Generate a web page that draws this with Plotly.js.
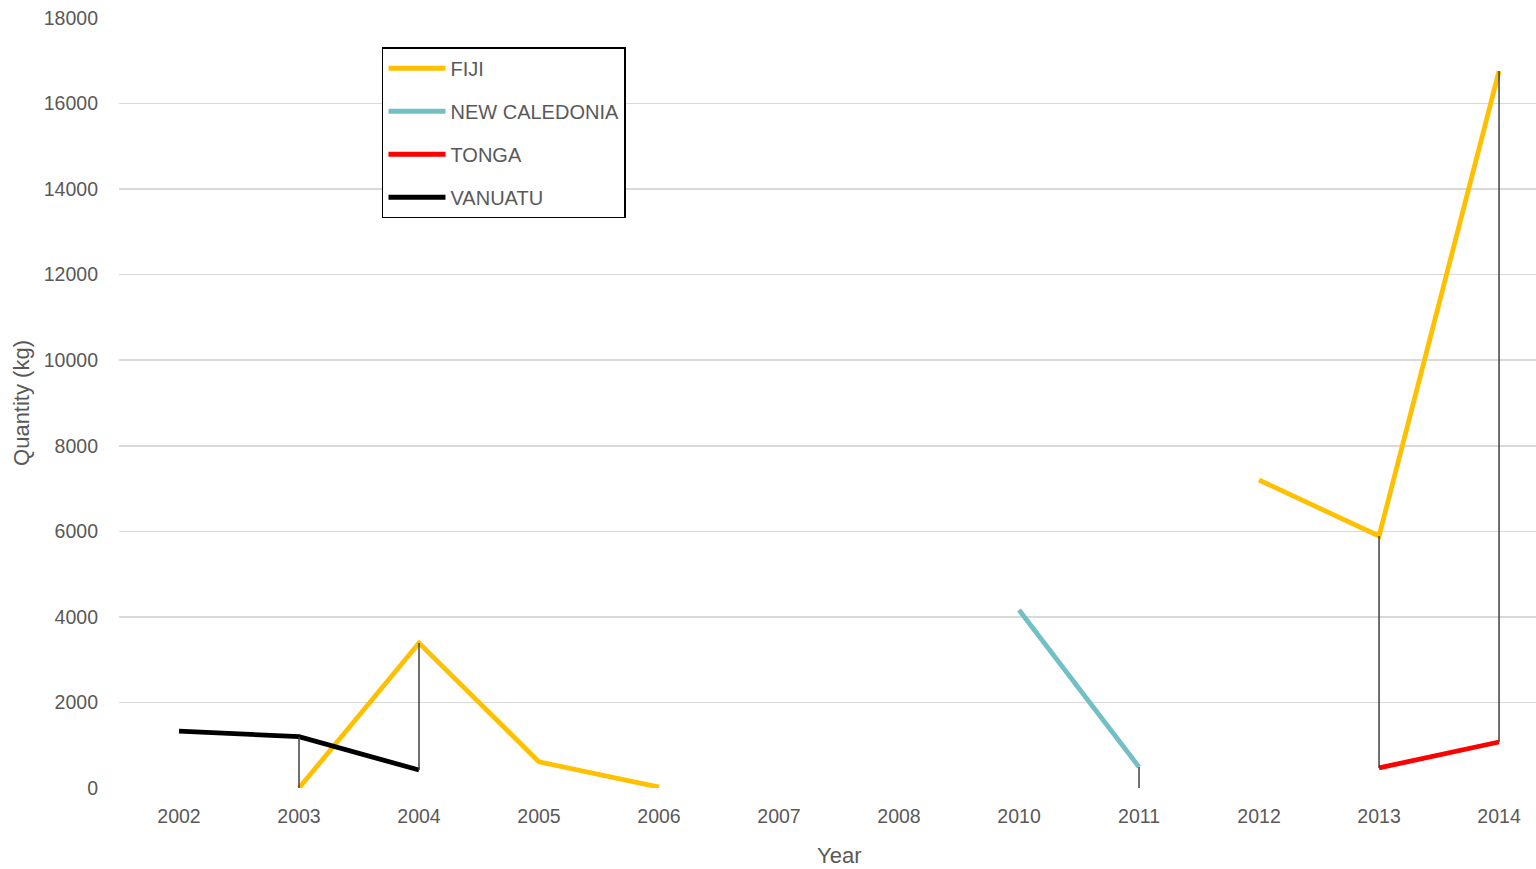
<!DOCTYPE html>
<html>
<head>
<meta charset="utf-8">
<script src="https://cdn.plot.ly/plotly-3.0.1.min.js"></script>
<style>html,body{margin:0;padding:0;background:#fff;}#chart{width:1536px;height:869px;}</style>
</head>
<body>
<div id="chart"></div>
<script>
var years = ["2002","2003","2004","2005","2006","2007","2008","2010","2011","2012","2013","2014"];
var fiji          = [null, 0, 3390, 610, 20, null, null, null, null, 7200, 5890, 16760];
var newCaledonia  = [null, null, null, null, null, null, null, 4160, 490, null, null, null];
var tonga         = [null, null, null, null, null, null, null, null, 0, null, 470, 1075];
var vanuatu       = [1330, 1200, 420, null, null, null, null, null, null, null, null, null];
var seriesNames = ["FIJI", "NEW CALEDONIA", "TONGA", "VANUATU"];
var seriesColors = ["#FFC000", "#72C0C6", "#FF0000", "#000000"];
var allSeries = [fiji, newCaledonia, tonga, vanuatu];

var font = "'Liberation Sans', Arial, sans-serif";
var grey = "#595959";

var traces = allSeries.map(function(s, i){
  return {
    x: years, y: s, type: "scatter", mode: "lines", name: seriesNames[i],
    legendgroup: "g" + i,
    line: {color: seriesColors[i], width: 4.8},
    connectgaps: false, hoverinfo: "x+y+name"
  };
});

// high-low lines built from the series
var hlx = [], hly = [];
years.forEach(function(yr, k){
  var vals = allSeries.map(function(s){return s[k];}).filter(function(v){return v !== null;});
  if (vals.length >= 2) {
    hlx.push(yr, yr, null);
    hly.push(Math.min.apply(null, vals), Math.max.apply(null, vals), null);
  }
});
traces.push({x: hlx, y: hly, type: "scatter", mode: "lines", showlegend: false,
  line: {color: "#404040", width: 1.5}, hoverinfo: "skip", connectgaps: false});

var layout = {
  width: 1536, height: 869,
  margin: {l: 119, r: 0, t: 18, b: 81},
  paper_bgcolor: "#fff", plot_bgcolor: "#fff",
  showlegend: true,
  legend: {
    x: 0.1856, y: 0.962, xanchor: "left", yanchor: "top",
    bgcolor: "#fff", bordercolor: "#000", borderwidth: 1.5,
    font: {family: font, size: 20, color: grey},
    tracegroupgap: 14, traceorder: "grouped", itemwidth: 57
  },
  xaxis: {
    type: "category", range: [-0.5, 11.308],
    showgrid: false, zeroline: false, showline: false, ticks: "",
    tickfont: {family: font, size: 19.5, color: grey},
    ticklabelstandoff: 14
  },
  yaxis: {
    range: [0, 18000], dtick: 2000, tickformat: "d",
    showgrid: true, gridcolor: "#D9D9D9", gridwidth: 1.5,
    zeroline: false, showline: false, ticks: "",
    tickfont: {family: font, size: 19.5, color: grey},
    ticklabelstandoff: 20,
    title: {text: "Quantity (kg)", font: {family: font, size: 22, color: grey}, standoff: 8}
  },
  annotations: [{
    text: "Year", xref: "paper", yref: "paper", x: (839 - 119) / 1417, y: -(855 - 788) / 770,
    xanchor: "center", yanchor: "middle", showarrow: false,
    font: {family: font, size: 22, color: grey}
  }]
};

Plotly.newPlot("chart", traces, layout, {displayModeBar: false, staticPlot: true});
</script>
</body>
</html>
